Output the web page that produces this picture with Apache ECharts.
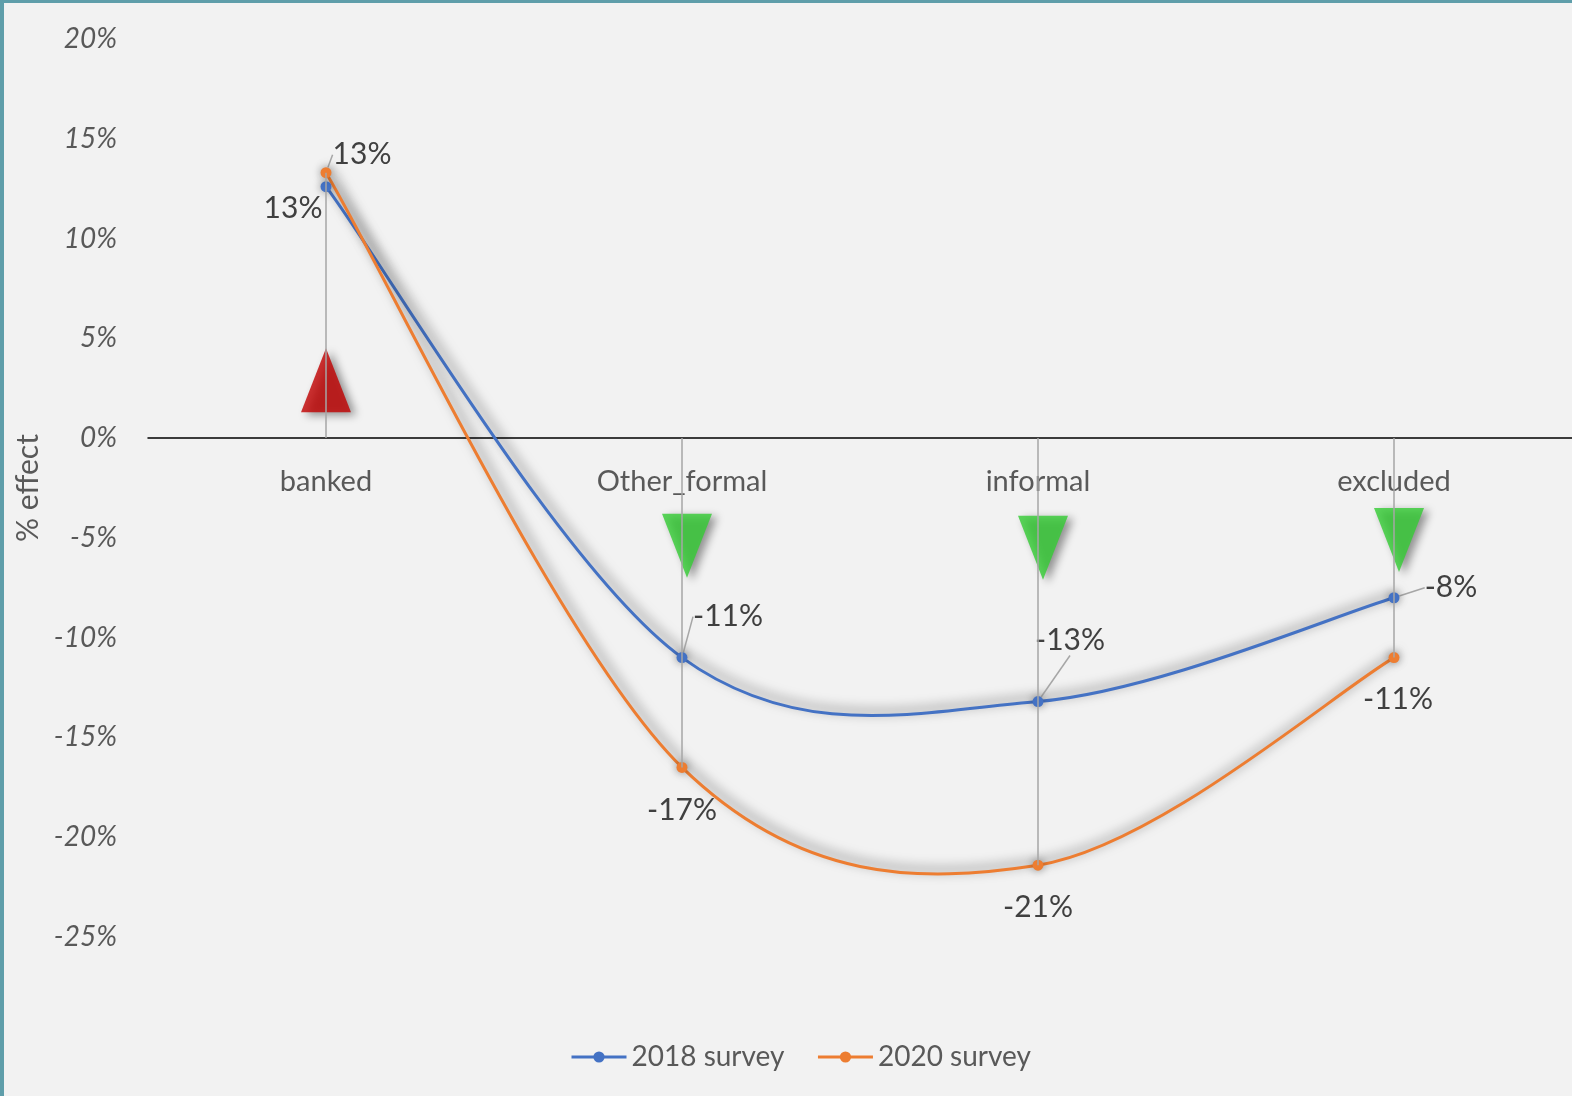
<!DOCTYPE html>
<html>
<head>
<meta charset="utf-8">
<script src="https://cdn.jsdelivr.net/npm/echarts@6/dist/echarts.min.js"></script>
<style>
html,body{margin:0;padding:0;background:#f2f2f2;}
#chart{width:1572px;height:1096px;}
</style>
</head>
<body>
<div id="chart"></div>
<script>
const categories = ['banked', 'Other_formal', 'informal', 'excluded'];
const survey2018 = [12.6, -11.0, -13.2, -8.0];
const survey2020 = [13.3, -16.5, -21.4, -11.0];
const labels2018 = ['13%', '-11%', '-13%', '-8%'];
const labels2020 = ['13%', '-17%', '-21%', '-11%'];
const arrowValues = [2.9, -5.4, -5.5, -5.1];
const arrowUp = [true, false, false, false];
const yTicks = { min: -25, max: 20, interval: 5 };

const FONT = 'Lato, "Open Sans", sans-serif';
const GRID = { left: 148, right: 0, top: 39, bottom: 159 };
const CH = 1096;
// label offsets (style, px) relative to the point, and whether a leader line is shown
const labelOffsets = [
  [[-33, 22], [46, -41], [32, -61], [57, -10]],
  [[36, -18], [0, 43], [0, 42], [4, 42]]
];
const leaders = [
  [false, true, true, true],
  [true, false, false, false]
];

const dropData = categories.map((c, i) => {
  const a = survey2018[i], b = survey2020[i];
  const ext = Math.abs(a) > Math.abs(b) ? a : b;
  return [{ coord: [c, 0] }, { coord: [c, ext] }];
});

const gridH = CH - GRID.top - GRID.bottom;
const zeroOffset = gridH * (0 - yTicks.min) / (yTicks.max - yTicks.min);

// Excel-like smoothed curve (Catmull-Rom style bezier) drawn through the axes' coord()
function curveSeries(name, values, color) {
  return {
    name: name + ' curve',
    type: 'custom',
    coordinateSystem: 'cartesian2d',
    silent: true,
    clip: false,
    z: 2,
    data: [[0, values[0]]],
    renderItem: function (params, api) {
      if (params.dataIndex !== 0) return;
      const pts = values.map((v, i) => api.coord([i, v]));
      const n = pts.length;
      let d = 'M' + pts[0][0] + ' ' + pts[0][1];
      for (let i = 0; i < n - 1; i++) {
        const p0 = pts[Math.max(i - 1, 0)], p1 = pts[i], p2 = pts[i + 1], p3 = pts[Math.min(i + 2, n - 1)];
        const c1 = [p1[0] + (p2[0] - p0[0]) / 6, p1[1] + (p2[1] - p0[1]) / 6];
        const c2 = [p2[0] - (p3[0] - p1[0]) / 6, p2[1] - (p3[1] - p1[1]) / 6];
        d += ' C' + c1[0] + ' ' + c1[1] + ' ' + c2[0] + ' ' + c2[1] + ' ' + p2[0] + ' ' + p2[1];
      }
      return {
        type: 'path',
        shape: { pathData: d },
        style: {
          fill: null, stroke: color, lineWidth: 3,
          shadowColor: 'rgba(0,0,0,0.6)', shadowBlur: 12, shadowOffsetX: 3, shadowOffsetY: -4
        }
      };
    }
  };
}

function pointSeries(name, values, labels, color, si) {
  return {
    name: name,
    type: 'line',
    data: values.map((v, i) => ({ value: v, labelLine: { show: leaders[si][i] } })),
    symbol: 'circle',
    symbolSize: 11,
    z: 3,
    itemStyle: { color: color, shadowColor: 'rgba(0,0,0,0.4)', shadowBlur: 8 },
    lineStyle: { color: color, width: 3, opacity: 0 },
    label: {
      show: true,
      position: 'inside',
      formatter: p => labels[p.dataIndex],
      fontFamily: FONT,
      fontSize: 30,
      color: '#404040'
    },
    labelLine: { show: true, lineStyle: { color: '#a6a6a6', width: 1.5 } },
    labelLayout: p => ({ dx: labelOffsets[si][p.dataIndex][0], dy: labelOffsets[si][p.dataIndex][1] }),
    emphasis: { disabled: true }
  };
}

const chart = echarts.init(document.getElementById('chart'), null, { renderer: 'canvas' });
chart.setOption({
  backgroundColor: '#f2f2f2',
  animation: false,
  grid: GRID,
  legend: {
    bottom: 20,
    left: 565,
    itemWidth: 55,
    itemHeight: 14,
    itemGap: 32,
    textStyle: { fontFamily: FONT, fontSize: 28, color: '#595959' },
    data: [
      { name: '2018 survey', lineStyle: { opacity: 1, width: 3, color: '#4472c4' } },
      { name: '2020 survey', lineStyle: { opacity: 1, width: 3, color: '#ed7d31' } }
    ]
  },
  xAxis: {
    type: 'category',
    data: categories,
    offset: -zeroOffset,
    axisLine: { onZero: false, lineStyle: { color: '#000', width: 1.5 } },
    axisTick: { show: false },
    axisLabel: { margin: 29, fontFamily: FONT, fontSize: 29, color: '#595959' },
    splitLine: { show: false }
  },
  yAxis: {
    type: 'value',
    min: yTicks.min, max: yTicks.max, interval: yTicks.interval,
    name: '% effect',
    nameLocation: 'middle',
    nameGap: 104,
    nameRotate: 90,
    nameTextStyle: { fontFamily: FONT, fontSize: 30, color: '#595959' },
    axisLine: { show: false },
    axisTick: { show: false },
    splitLine: { show: false },
    axisLabel: { margin: 31, formatter: '{value}%', fontFamily: FONT, fontStyle: 'italic', fontSize: 28, color: '#595959' }
  },
  series: [
    {
      name: 'drop',
      type: 'line',
      data: [],
      z: 1,
      silent: true,
      markLine: {
        silent: true,
        symbol: 'none',
        label: { show: false },
        lineStyle: { color: '#a6a6a6', width: 1.5, type: 'solid' },
        emphasis: { disabled: true },
        data: dropData
      }
    },
    {
      name: 'arrows',
      type: 'scatter',
      z: 2,
      silent: true,
      data: arrowValues.map((v, i) => ({
        value: [categories[i], v],
        symbolRotate: arrowUp[i] ? 0 : 180,
        symbolOffset: arrowUp[i] ? [0, 0] : [5, 0],
        itemStyle: { color: arrowUp[i] ? '#c00000' : '#33cc33' }
      })),
      symbol: 'triangle',
      symbolSize: [50, 64],
      itemStyle: { shadowColor: 'rgba(0,0,0,0.5)', shadowBlur: 8, shadowOffsetX: 5, shadowOffsetY: 3 }
    },
    curveSeries('2018 survey', survey2018, '#4472c4'),
    curveSeries('2020 survey', survey2020, '#ed7d31'),
    pointSeries('2018 survey', survey2018, labels2018, '#4472c4', 0),
    pointSeries('2020 survey', survey2020, labels2020, '#ed7d31', 1)
  ],
  graphic: [
    { type: 'rect', left: 0, top: 0, shape: { width: 1572, height: 3 }, style: { fill: '#5f9eaa' }, z: 100 },
    { type: 'rect', left: 0, top: 0, shape: { width: 4, height: 1096 }, style: { fill: '#5f9eaa' }, z: 100 }
  ]
});
</script>
</body>
</html>
